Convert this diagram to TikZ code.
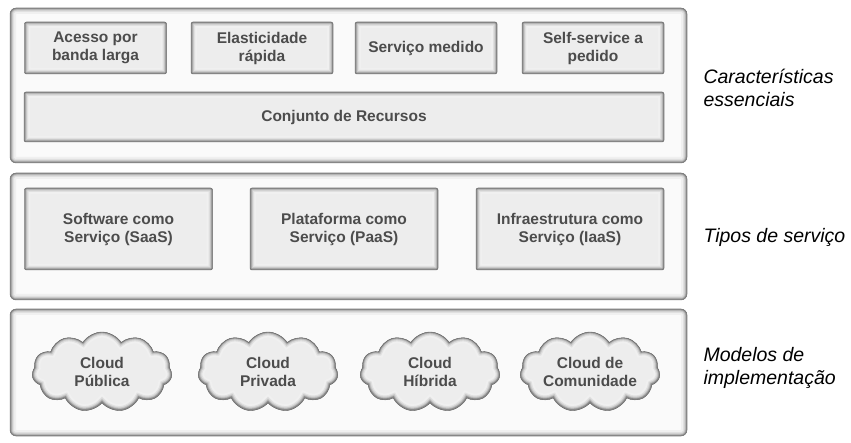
\documentclass[tikz,border=0pt]{standalone}
\usepackage{fontspec}
\setmainfont{Liberation Sans}
\usetikzlibrary{shapes.symbols}
\tikzset{
  bevel/.style={path picture={
    \foreach \w/\c in {12/6,8/12,5.5/21,3.5/32,2/46}
      \draw[black!\c, line width=\w pt, rounded corners=#1] (path picture bounding box.south west) rectangle (path picture bounding box.north east);}},
  panel/.style={draw=black!55, fill=black!2, rounded corners=6, bevel=6, minimum width=677, minimum height=#1},
  boxtext/.style={align=center, text=black!70, font=\fontsize{15.5}{18}\selectfont\bfseries},
  box/.style={draw=black!60, fill=black!7, rounded corners=2, bevel=2, minimum width=142, minimum height=52, boxtext},
  puff/.style={cloud, cloud puffs=11, cloud puff arc=115, cloud ignores aspect, minimum width=140, minimum height=80, inner sep=0},
  cloudbox/.style={puff, draw=black!60, fill=black!7, boxtext, path picture={
    \foreach \w/\c in {12/6,8/12,5.5/21,3.5/32,2/46}
      \node[puff, draw=black!\c, line width=\w pt, path picture={}] at (path picture bounding box.center) {};}},
  tag/.style={anchor=west, align=left, font=\fontsize{19.5}{23.5}\selectfont\itshape},
}
\begin{document}
\begin{tikzpicture}[x=1pt, y=-1pt]
\useasboundingbox (0,0) rectangle (851,443);
\node[panel=155] (pcar) at (348.5,85.5) {};
\node[panel=127] (ptipo) at (348.5,236.5) {};
\node[panel=127] (pmod) at (348.5,372.5) {};

\node[box] (acesso) at (95.5,48) {Acesso por\\banda larga};
\node[box] (elast) at (262,48) {Elasticidade\\rápida};
\node[box] (medido) at (426,48) {Serviço medido};
\node[box] (self) at (593,48) {Self-service a\\pedido};
\node[box, minimum width=640, minimum height=50] (recursos) at (344,117) {Conjunto de Recursos};

\node[box, minimum width=188, minimum height=82] (saas) at (118.5,229) {Software como\\Serviço (SaaS)};
\node[box, minimum width=188, minimum height=82] (paas) at (344,229) {Plataforma como\\Serviço (PaaS)};
\node[box, minimum width=188, minimum height=82] (iaas) at (570,229) {Infraestrutura como\\Serviço (IaaS)};

\node[cloudbox] (publica) at (102,372) {Cloud\\Pública};
\node[cloudbox] (privada) at (268,372) {Cloud\\Privada};
\node[cloudbox] (hibrida) at (430,372) {Cloud\\Híbrida};
\node[cloudbox] (comunidade) at (590,372) {Cloud de\\Comunidade};

\node[tag] (lcar) at (700,88) {Características\\essenciais};
\node[tag] (ltipo) at (700,237) {Tipos de serviço};
\node[tag] (lmod) at (700,368) {Modelos de\\implementação};
\end{tikzpicture}
\end{document}
